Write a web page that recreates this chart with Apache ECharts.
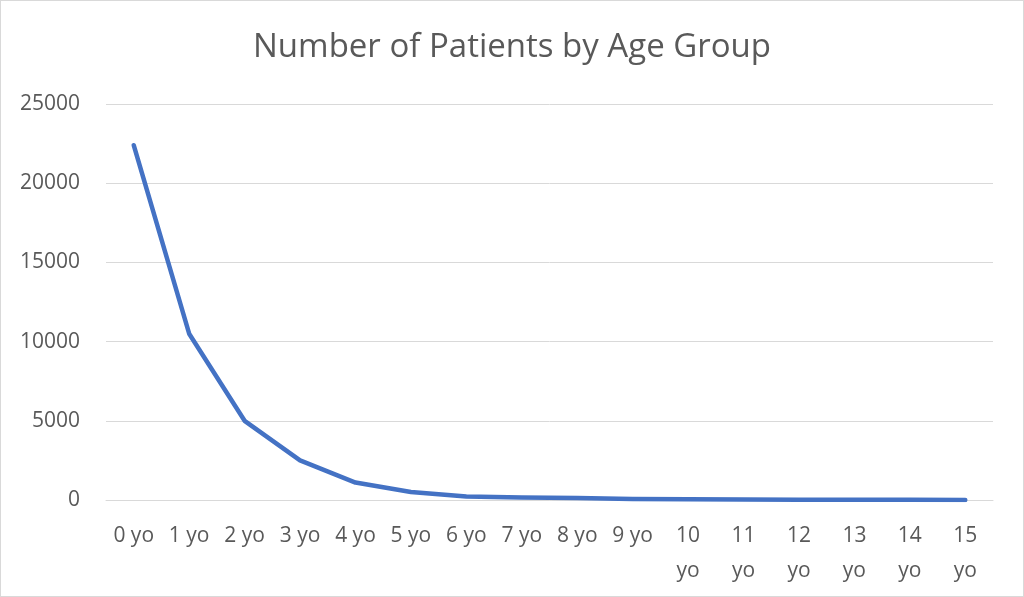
<!DOCTYPE html>
<html>
<head>
<meta charset="utf-8">
<script src="https://cdn.jsdelivr.net/npm/echarts@6/dist/echarts.min.js"></script>
<style>
html,body{margin:0;padding:0;background:#fff;}
#c{width:1022px;height:595px;border:1px solid #d9d9d9;}
</style>
</head>
<body>
<div id="c"></div>
<script>
var titleText = 'Number of Patients by Age Group';
var categories = ['0 yo','1 yo','2 yo','3 yo','4 yo','5 yo','6 yo','7 yo','8 yo','9 yo','10 yo','11 yo','12 yo','13 yo','14 yo','15 yo'];
var patients = [22400, 10500, 5000, 2500, 1100, 500, 220, 150, 130, 60, 40, 30, 20, 15, 10, 5];
var yTicks = {min: 0, max: 25000, interval: 5000};

var chart = echarts.init(document.getElementById('c'));
chart.setOption({
  animation: false,
  title: {
    text: titleText,
    left: 'center',
    top: 25,
    textStyle: {fontFamily: 'Open Sans', fontSize: 33, fontWeight: 'normal', color: '#595959'}
  },
  grid: {left: 105, right: 30, top: 103, bottom: 96},
  xAxis: {
    type: 'category',
    data: categories,
    boundaryGap: true,
    axisLine: {show: true, lineStyle: {color: '#d9d9d9', width: 1}},
    axisTick: {show: false},
    axisLabel: {
      color: '#595959', fontFamily: 'Open Sans', fontSize: 21, margin: 19,
      lineHeight: 35, interval: 0, verticalAlign: 'top',
      formatter: function (v) { return v.length > 4 ? v.replace(' ', '\n') : v; }
    }
  },
  yAxis: {
    type: 'value',
    min: yTicks.min, max: yTicks.max, interval: yTicks.interval,
    axisLine: {show: false},
    axisTick: {show: false},
    splitLine: {lineStyle: {color: '#d9d9d9', width: 1}},
    axisLabel: {color: '#595959', fontFamily: 'Open Sans', fontSize: 21, margin: 26,
      formatter: function (v) { return String(v); }}
  },
  series: [{
    type: 'line',
    data: patients,
    showSymbol: false,
    symbol: 'none',
    lineStyle: {color: '#4472C4', width: 4.5, cap: 'round', join: 'round'}
  }]
});
</script>
</body>
</html>
